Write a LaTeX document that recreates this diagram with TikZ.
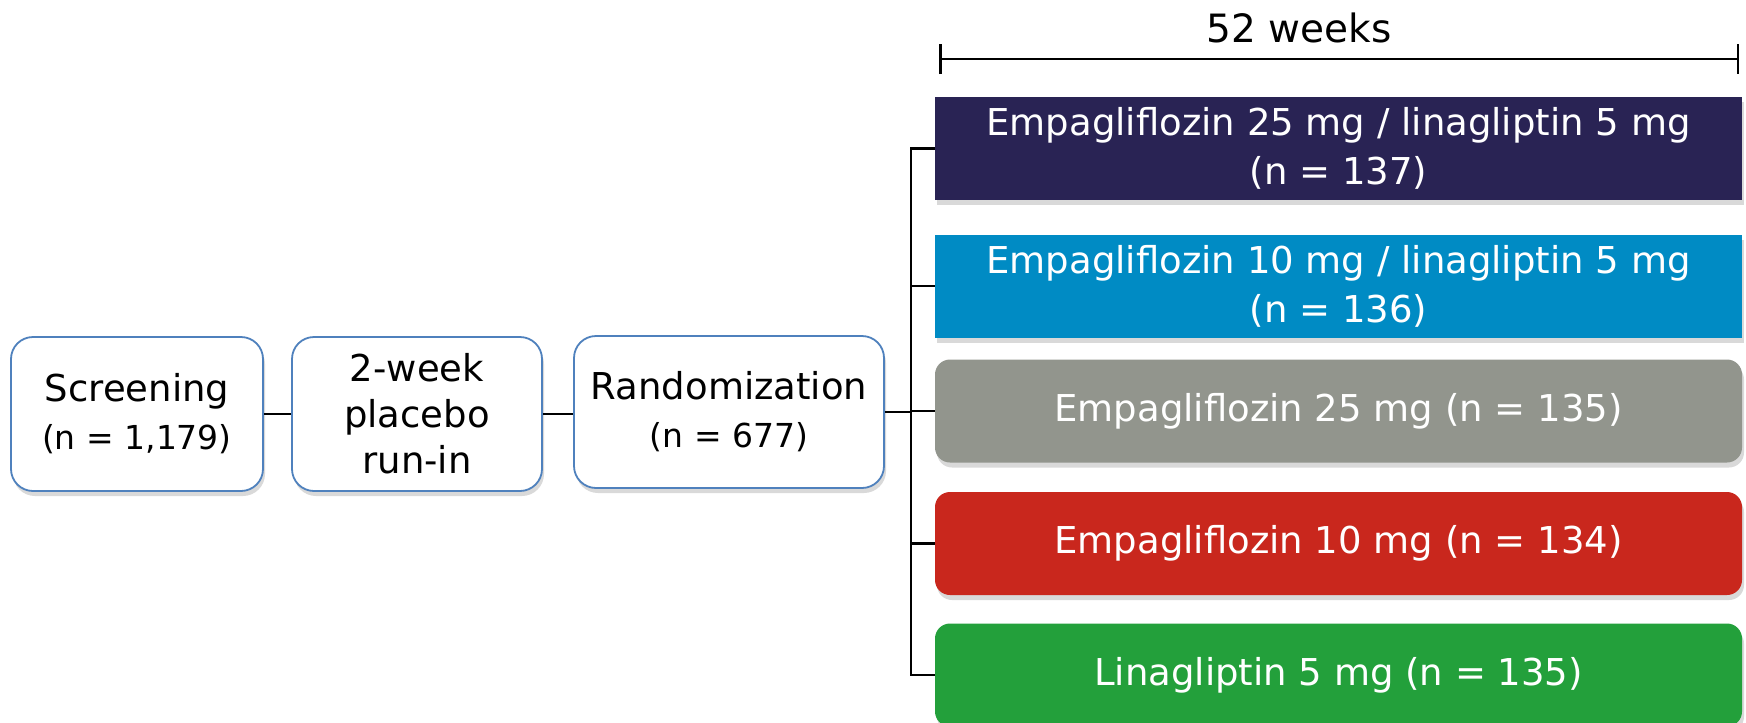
\documentclass[tikz,border=0pt]{standalone}
\usepackage{fontspec}
\setmainfont{DejaVu Sans}
\usetikzlibrary{arrows.meta,shadows}
\definecolor{stepedge}{RGB}{79,129,189}
\definecolor{navyarm}{RGB}{41,35,84}
\definecolor{bluearm}{RGB}{0,139,196}
\definecolor{grayarm}{RGB}{146,149,141}
\definecolor{redarm}{RGB}{201,39,29}
\definecolor{greenarm}{RGB}{35,160,59}

\newcommand{\bigtext}{\fontsize{37}{48}\selectfont}
\newcommand{\smalltext}{\fontsize{33}{48}\selectfont}

\tikzset{
  boxshadow/.style={drop shadow={shadow xshift=2pt, shadow yshift=-5pt, opacity=0.25, fill=black!60}},
  stepbox/.style={draw=stepedge, line width=1.8pt, fill=white, rounded corners=22pt,
    align=center, inner sep=0pt, font=\bigtext, minimum height=154pt, boxshadow},
  armbox/.style={fill=#1, text=white, minimum width=807pt, minimum height=103pt,
    inner sep=0pt, align=center, font=\fontsize{37}{49}\selectfont, boxshadow},
  roundarm/.style={armbox=#1, rounded corners=15pt},
  link/.style={line width=2.2pt, black},
}

\begin{document}
\begin{tikzpicture}[x=1pt, y=-1pt]
    \useasboundingbox (0,0) rectangle (1746,723);

    % study steps
    \node [stepbox, minimum width=252pt] (screen) at (137,414)
      {Screening\\{\smalltext (n = 1,179)}};
    \node [stepbox, minimum width=250pt] (runin) at (417,414)
      {2-week\\[-2pt]placebo\\[-2pt]run-in};
    \node [stepbox, minimum width=310pt, minimum height=152pt] (random) at (729,412)
      {Randomization\\{\smalltext (n = 677)}};

    % treatment arms
    \node [armbox=navyarm] (arma) at (1338.5,148.5)
      {Empagliflozin 25 mg / linagliptin 5 mg\\(n = 137)};
    \node [armbox=bluearm] (armb) at (1338.5,286)
      {Empagliflozin 10 mg / linagliptin 5 mg\\(n = 136)};
    \node [roundarm=grayarm] (armc) at (1338.5,411)
      {Empagliflozin 25 mg (n = 135)};
    \node [roundarm=redarm] (armd) at (1338.5,543.5)
      {Empagliflozin 10 mg (n = 134)};
    \node [roundarm=greenarm] (arme) at (1338.5,675)
      {Linagliptin 5 mg (n = 135)};

    % connectors
    \draw [link] (screen.east) -- (runin.west);
    \draw [link] (runin.east) -- (runin.east -| random.west);

    \coordinate (split) at (911,411);
    \draw [link] (random.east) -- (random.east -| split);
    \draw [link, line cap=rect] (split |- arma.west) -- (split |- arme.west);
    \foreach \a in {arma,armb,armc,armd,arme}
      \draw [link] (split |- \a.west) -- (\a.west);

    % treatment period
    \coordinate (wkstart) at (939,59);
    \coordinate (wkend) at (1739,59);
    \draw [line width=2.5pt, {Bar[width=30pt]}-{Bar[width=30pt]}] (wkstart) -- (wkend);
    \node [font=\fontsize{39}{47}\selectfont] (weeks) at (1299,28) {52 weeks};
  \end{tikzpicture}
\end{document}
